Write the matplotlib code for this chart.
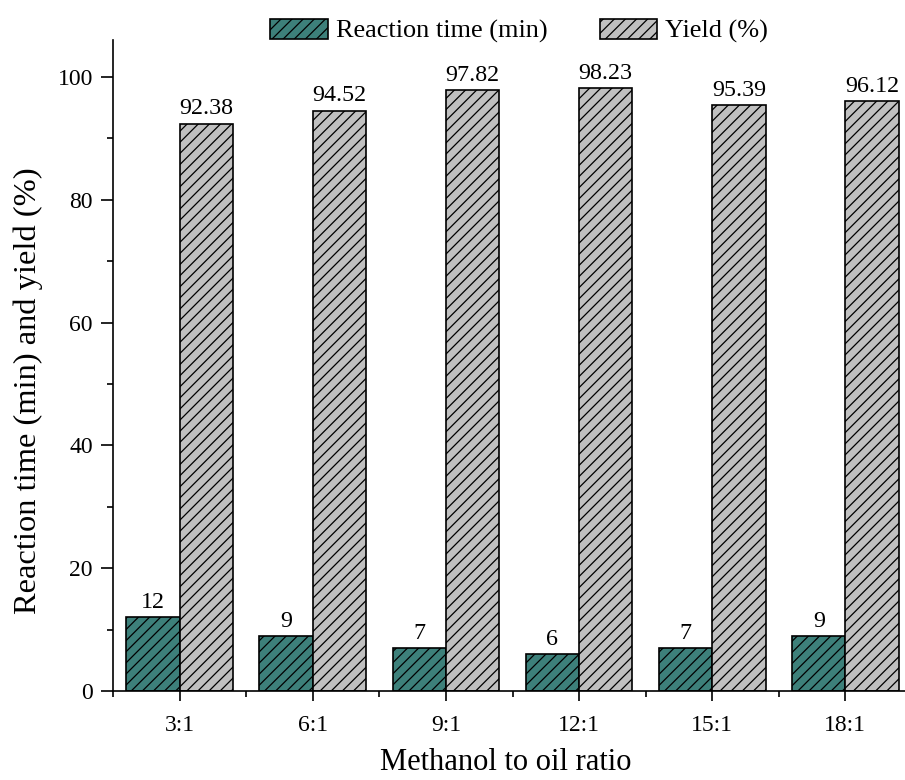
import matplotlib.pyplot as plt
import numpy as np
from matplotlib.ticker import MultipleLocator

plt.rcParams['font.family'] = ['Liberation Serif', 'DejaVu Serif']
plt.rcParams['hatch.linewidth'] = 0.9

ratios = ["3:1", "6:1", "9:1", "12:1", "15:1", "18:1"]
reaction_time = [12, 9, 7, 6, 7, 9]
yield_pct = [92.38, 94.52, 97.82, 98.23, 95.39, 96.12]

teal = "#3d807a"
grey = "#c0c0c0"
w = 0.4

fig = plt.figure(figsize=(9.05, 7.8), dpi=100)
ax = fig.add_axes([113 / 905, 89 / 780, 799 / 905, 651 / 780])

x = np.arange(len(ratios))
b1 = ax.bar(x - w / 2, reaction_time, w, color=teal, edgecolor="black",
            linewidth=1.2, hatch="///", label="Reaction time (min)")
b2 = ax.bar(x + w / 2, yield_pct, w, color=grey, edgecolor="black",
            linewidth=1.2, hatch="///", label="Yield (%)")

ax.bar_label(b1, labels=[str(v) for v in reaction_time], padding=3, fontsize=17.3)
ax.bar_label(b2, labels=[f"{v:.2f}" for v in yield_pct], padding=3, fontsize=17.3)

ax.set_xlim(-0.5, len(ratios) - 0.5)
ax.set_ylim(0, 106)
ax.set_xticks(x)
ax.set_xticklabels(ratios)
ax.xaxis.set_minor_locator(MultipleLocator(1, offset=0.5))
ax.yaxis.set_major_locator(MultipleLocator(20))
ax.yaxis.set_minor_locator(MultipleLocator(10))

ax.spines["top"].set_visible(False)
ax.spines["right"].set_visible(False)
for s in ("left", "bottom"):
    ax.spines[s].set_linewidth(1.2)

ax.tick_params(which="major", direction="out", length=8.5, width=1.2, labelsize=17)
ax.tick_params(axis="x", which="major", length=7.5, pad=10)
ax.tick_params(axis="y", which="major", pad=6)
ax.tick_params(which="minor", direction="out", length=4, width=1.2)

ax.set_xlabel("Methanol to oil ratio", fontsize=22)
ax.xaxis.set_label_coords(0.5 - 7 / 799, -57 / 651)
ax.set_ylabel("Reaction time (min) and yield (%)", fontsize=23.4)
ax.yaxis.set_label_coords(-70 / 799, (691 - 391) / 651)

fig.legend(handles=[b1, b2], loc="center", bbox_to_anchor=(519 / 905, 1 - 31 / 780),
           ncol=2, frameon=False, fontsize=18.9, handlelength=2.2, handleheight=0.85,
           columnspacing=2.0, handletextpad=0.3)

fig.savefig("out.png", dpi=100)
